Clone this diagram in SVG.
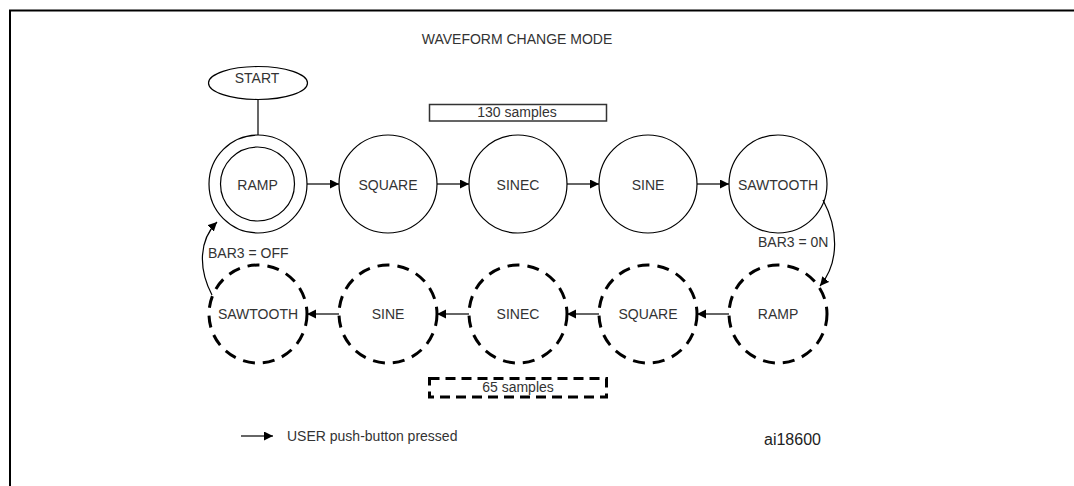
<svg xmlns="http://www.w3.org/2000/svg" width="1074" height="486" viewBox="0 0 1074 486">
<style>
  text { font-family: "Liberation Sans", Arial, sans-serif; font-size: 14px; fill: #333; }
  .c { text-anchor: middle; }
  .solid { fill: #fff; stroke: #000; stroke-width: 1.2; }
  .dash { fill: #fff; stroke: #000; stroke-width: 3; stroke-dasharray: 12 8; }
  .edge { fill: none; stroke: #000; stroke-width: 1.2; }
</style>
<defs>
  <marker id="ah" markerUnits="userSpaceOnUse" markerWidth="10" markerHeight="10" refX="9" refY="4.5" orient="auto">
    <path d="M0,0 L9,4.5 L0,9 z" fill="#000"/>
  </marker>
</defs>
<rect width="1074" height="486" fill="#fff"/>
<path d="M10,486 V10.5 H1074" fill="none" stroke="#000" stroke-width="2"/>
<text x="517" y="44" class="c">WAVEFORM CHANGE MODE</text>

<g id="start"><ellipse cx="258" cy="83" rx="49.5" ry="16.5" class="solid"/><text x="257" y="83" class="c">START</text></g>

<g id="box130"><rect x="429.5" y="104.5" width="177" height="16.5" fill="none" stroke="#333" stroke-width="1.5"/><text x="517" y="117" class="c">130 samples</text></g>

<g id="ramp1"><circle cx="258" cy="184" r="49" class="solid"/><circle cx="257.5" cy="184" r="37" class="solid"/><text x="257.5" y="190" class="c">RAMP</text></g>
<g id="square1"><circle cx="388" cy="184" r="49" class="solid"/><text x="388" y="190" class="c">SQUARE</text></g>
<g id="sinec1"><circle cx="518" cy="184" r="49" class="solid"/><text x="518" y="190" class="c">SINEC</text></g>
<g id="sine1"><circle cx="648" cy="184" r="49" class="solid"/><text x="648" y="190" class="c">SINE</text></g>
<g id="sawtooth1"><circle cx="778" cy="184" r="49" class="solid"/><text x="778" y="190" class="c">SAWTOOTH</text></g>

<g id="sawtooth2"><circle cx="258" cy="314" r="49" class="dash"/><text x="258" y="319" class="c">SAWTOOTH</text></g>
<g id="sine2"><circle cx="388" cy="314" r="49" class="dash"/><text x="388" y="319" class="c">SINE</text></g>
<g id="sinec2"><circle cx="518" cy="314" r="49" class="dash"/><text x="518" y="319" class="c">SINEC</text></g>
<g id="square2"><circle cx="648" cy="314" r="49" class="dash"/><text x="648" y="319" class="c">SQUARE</text></g>
<g id="ramp2"><circle cx="778" cy="314" r="49" class="dash"/><text x="778" y="319" class="c">RAMP</text></g>

<g id="box65"><rect x="429.5" y="378.5" width="177" height="18.5" fill="none" stroke="#000" stroke-width="3" stroke-dasharray="10 6"/><text x="518" y="392" class="c">65 samples</text></g>

<g id="connectors">
  <line x1="258" y1="100" x2="258" y2="135" class="edge"/>
  <line x1="307" y1="184" x2="339" y2="184" class="edge" marker-end="url(#ah)"/>
  <line x1="437" y1="184" x2="469" y2="184" class="edge" marker-end="url(#ah)"/>
  <line x1="567" y1="184" x2="599" y2="184" class="edge" marker-end="url(#ah)"/>
  <line x1="697" y1="184" x2="729" y2="184" class="edge" marker-end="url(#ah)"/>
  <line x1="729" y1="314" x2="697" y2="314" class="edge" marker-end="url(#ah)"/>
  <line x1="599" y1="314" x2="567" y2="314" class="edge" marker-end="url(#ah)"/>
  <line x1="469" y1="314" x2="437" y2="314" class="edge" marker-end="url(#ah)"/>
  <line x1="339" y1="314" x2="307" y2="314" class="edge" marker-end="url(#ah)"/>
  <path d="M823,200 C838,228 840,262 820,286" class="edge" marker-end="url(#ah)"/>
  <path d="M212,295 C198,268 199,240 217,222" class="edge" marker-end="url(#ah)"/>
  <text x="758" y="247">BAR3 = 0N</text>
  <text x="208" y="258">BAR3 = OFF</text>
</g>

<g id="legend">
  <line x1="241" y1="436" x2="273" y2="436" class="edge" marker-end="url(#ah)"/>
  <text x="287" y="441">USER push-button pressed</text>
  <text x="764" y="445" style="font-size:16px;fill:#222">ai18600</text>
</g>
</svg>
